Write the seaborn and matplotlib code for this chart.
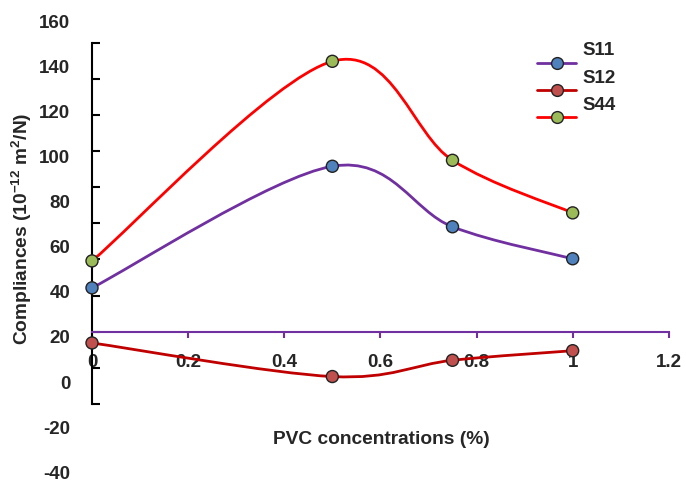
import numpy as np
import pandas as pd
import matplotlib
matplotlib.use('Agg')
import matplotlib.pyplot as plt
import matplotlib.transforms as mtransforms
from matplotlib.path import Path
from matplotlib.patches import PathPatch
from matplotlib.lines import Line2D
import seaborn as sns

# Data
pvc = [0, 0.5, 0.75, 1]
s11 = [24.3, 91.6, 58.1, 40.4]
s12 = [-6.2, -24.8, -15.8, -10.5]
s44 = [39.2, 149.7, 94.9, 65.8]
series_names = ['S11', 'S12', 'S44']
line_colors = ['#7030A0', '#C00000', '#FF0000']
marker_colors = ['#4F81BD', '#C0504D', '#9BBB59']
x_ticks = [0, 0.2, 0.4, 0.6, 0.8, 1, 1.2]
x_tick_labels = ['0', '0.2', '0.4', '0.6', '0.8', '1', '1.2']
y_ticks = [-40, -20, 0, 20, 40, 60, 80, 100, 120, 140, 160]
y_tick_labels = ['-40', '-20', '0', '20', '40', '60', '80', '100', '120', '140', '160']

FONT = 'Liberation Sans'
sns.set_style('white')
plt.rcParams['font.family'] = [FONT, 'DejaVu Sans']
plt.rcParams['font.weight'] = 'bold'
plt.rcParams['mathtext.fontset'] = 'custom'
plt.rcParams['mathtext.rm'] = FONT + ':bold'
plt.rcParams['mathtext.it'] = FONT + ':bold'
plt.rcParams['mathtext.bf'] = FONT + ':bold'

df = pd.DataFrame({
    'pvc': pvc * 3,
    'value': s11 + s12 + s44,
    'series': np.repeat(series_names, len(pvc)),
})


def smooth_path(x, y):
    # excel-like smoothed line: catmull-rom segments as cubic beziers
    pts = np.column_stack([x, y]).astype(float)
    ext = np.vstack([pts[0], pts, pts[-1]])
    verts = [pts[0]]
    codes = [Path.MOVETO]
    for i in range(1, len(ext) - 2):
        p0, p1, p2, p3 = ext[i - 1], ext[i], ext[i + 1], ext[i + 2]
        verts += [p1 + (p2 - p0) / 6, p2 - (p3 - p1) / 6, p2]
        codes += [Path.CURVE4] * 3
    return Path(verts, codes)


fig = plt.figure(figsize=(6.86, 4.8), dpi=100)
ax = fig.add_axes([92 / 686, 1 - 404 / 480, (668.8 - 92) / 686, (404 - 42.7) / 480])
ax.set_facecolor('none')
ax.set_xlim(0, 1.2)
ax.set_ylim(-40, 160)

for name, col in zip(series_names, line_colors):
    sub = df[df['series'] == name]
    ax.add_patch(PathPatch(smooth_path(sub['pvc'], sub['value']), facecolor='none',
                           edgecolor=col, lw=2, zorder=3, clip_on=False))

sns.scatterplot(data=df, x='pvc', y='value', hue='series',
                palette=dict(zip(series_names, marker_colors)), s=75,
                edgecolor='#222222', linewidth=1, legend=False, zorder=5,
                clip_on=False, ax=ax)
ax.set_xlabel('')
ax.set_ylabel('')

# axes styling
for side in ['top', 'right']:
    ax.spines[side].set_visible(False)
ax.spines['bottom'].set_position(('data', 0))
ax.spines['bottom'].set_color('#7030A0')
ax.spines['bottom'].set_linewidth(1.5)
ax.spines['left'].set_color('black')
ax.spines['left'].set_linewidth(1.5)
ax.set_yticks(y_ticks)
ax.tick_params(axis='y', direction='in', length=6, width=1.5, color='black', labelleft=False, left=True)
ax.set_xticks(x_ticks)
ax.set_xticklabels(x_tick_labels, fontsize=13.5, fontweight='bold')
ax.tick_params(axis='x', direction='out', length=4, width=1.5, color='#7030A0', pad=12, bottom=True)

# y tick labels on their own scale, as in the picture
ax2 = fig.add_axes([76 / 686, 0, 0.001, 1])
ax2.set_facecolor('none')
ax2.set_ylim(-43.5, 169.6)
ax2.set_yticks(y_ticks)
ax2.set_yticklabels(y_tick_labels, fontsize=13.5, fontweight='bold')
ax2.tick_params(axis='y', length=0, pad=4)
ax2.set_xticks([])
for s in ax2.spines.values():
    s.set_visible(False)

fig.text(22 / 686, 1 - 229 / 480, r'Compliances (10$^{-12}$ m$^{2}$/N)', rotation=90,
         ha='center', va='center', fontsize=13.8, fontweight='bold')
fig.text(381 / 686, 1 - 439 / 480, 'PVC concentrations (%)', ha='center', va='center',
         fontsize=13.8, fontweight='bold')

handles = [Line2D([], [], color=lc, lw=2, marker='o', markersize=8.5, markerfacecolor=mc,
                  markeredgecolor='#222222', markeredgewidth=1)
           for lc, mc in zip(line_colors, marker_colors)]
leg = fig.legend(handles, series_names, loc='upper left', frameon=False,
                 bbox_to_anchor=(537 / 686, 1 - 56 / 480), borderpad=0, borderaxespad=0,
                 handlelength=2.1, handletextpad=0.35, labelspacing=0.55,
                 prop={'weight': 'bold', 'size': 13.5})
shift = mtransforms.ScaledTranslation(0, 14 / 100, fig.dpi_scale_trans)
for t in leg.get_texts():
    t.set_transform(t.get_transform() + shift)

fig.savefig('out.png', dpi=100)
